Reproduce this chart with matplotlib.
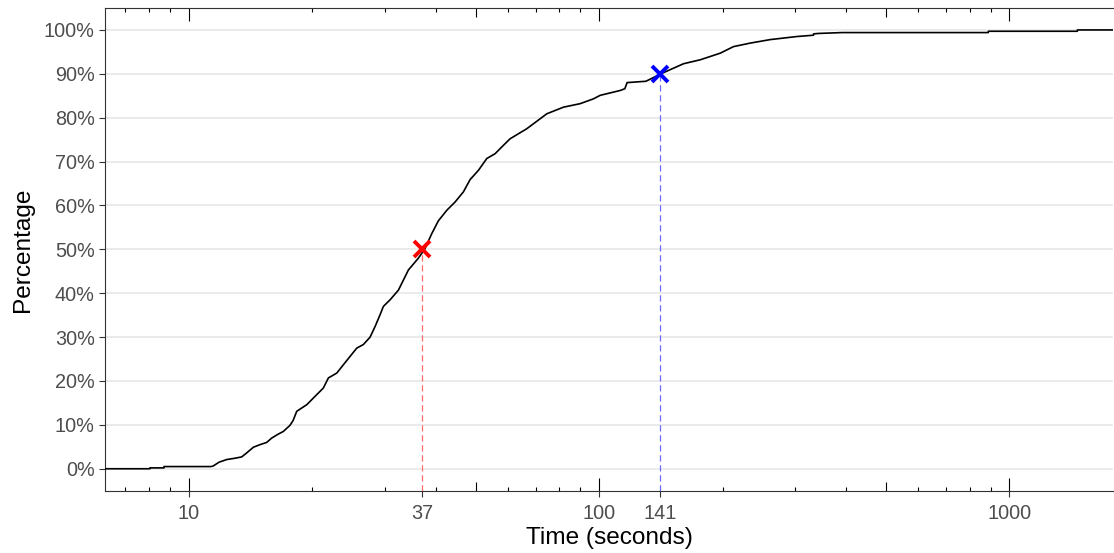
import numpy as np
import matplotlib
matplotlib.use("Agg")
import matplotlib.pyplot as plt
from matplotlib.ticker import FixedLocator, NullLocator, NullFormatter

plt.rcParams["font.family"] = ["Liberation Sans", "DejaVu Sans"]

# cumulative share of sessions vs. time
time_s = [6.0, 8.03, 8.03, 8.69, 8.69, 11.3, 11.44, 11.84, 12.36, 12.95, 13.44, 13.82,
          14.35, 14.90, 15.47, 15.91, 16.51, 16.98, 17.63, 17.94, 18.31, 19.37, 20.29,
          21.26, 21.87, 22.92, 23.79, 24.70, 25.65, 26.61, 27.64, 28.42, 29.23, 29.78,
          30.92, 32.40, 34.27, 36.25, 37.63, 39.08, 40.55, 42.51, 44.55, 46.67, 48.46,
          50.77, 53.22, 55.76, 58.42, 60.66, 66.64, 74.56, 81.85, 89.89, 96.85, 100.6,
          112.5, 115.5, 117.0, 130.0, 142.2, 160.6, 176.4, 197.3, 212.6, 233.5, 261.3,
          303.5, 333.2, 333.2, 342.1, 390.8, 888.9, 888.9, 1465.6, 1465.6, 2000]
cum_share = [0, 0, 0.002, 0.002, 0.005, 0.005, 0.006, 0.015, 0.021, 0.024, 0.027, 0.036,
             0.049, 0.055, 0.060, 0.070, 0.079, 0.085, 0.099, 0.110, 0.131, 0.146, 0.165,
             0.184, 0.207, 0.218, 0.237, 0.256, 0.275, 0.283, 0.300, 0.324, 0.351, 0.370,
             0.385, 0.407, 0.453, 0.480, 0.502, 0.536, 0.565, 0.589, 0.608, 0.631, 0.659,
             0.680, 0.707, 0.718, 0.737, 0.752, 0.775, 0.809, 0.824, 0.832, 0.843, 0.851,
             0.862, 0.866, 0.880, 0.883, 0.901, 0.923, 0.932, 0.947, 0.962, 0.970, 0.978,
             0.985, 0.988, 0.991, 0.992, 0.994, 0.994, 0.997, 0.997, 1.0, 1.0]

# highlighted quantiles
q_times = [37, 141]
q_levels = [0.5, 0.9]
q_colors = ["#FF0000", "#0000FF"]
q_line_colors = ["#FF6B6B", "#6B6BFF"]

x_ticks = [10, 37, 100, 141, 1000]
y_ticks = np.arange(0, 1.01, 0.1)

fig = plt.figure(figsize=(11.14, 5.53), dpi=100)
ax = fig.add_axes([105 / 1114, 62.3 / 553, 1008 / 1114, 482.7 / 553])

ax.set_xscale("log")
ax.set_xlim(6.24, 1790)
ax.set_ylim(-0.05, 1.05)

# grid
for y in y_ticks:
    ax.axhline(y, color="#EBEBEB", lw=1.4, zorder=0)

ax.plot(time_s, cum_share, color="black", lw=1.2, zorder=3)

for t, lv, mc, lc in zip(q_times, q_levels, q_colors, q_line_colors):
    ax.vlines(t, -0.05, lv, colors=lc, lw=0.9, linestyles=(0, (5, 3)), zorder=2)
    ax.plot([t], [lv], marker="x", color=mc, markersize=12, mew=2.8, zorder=4)

# axes styling
for s in ["left", "bottom", "top"]:
    ax.spines[s].set_color("#333333")
    ax.spines[s].set_linewidth(0.8)
ax.spines["right"].set_visible(False)

ax.set_xticks(x_ticks)
ax.set_xticklabels([str(v) for v in x_ticks])
ax.xaxis.set_minor_locator(NullLocator())
ax.xaxis.set_minor_formatter(NullFormatter())
ax.set_yticks(y_ticks)
ax.set_yticklabels(["%d%%" % round(v * 100) for v in y_ticks])
ax.tick_params(axis="both", which="major", direction="out", length=4.3, width=0.8,
               color="#333333", labelcolor="#4D4D4D", labelsize=14.3)
ax.tick_params(axis="x", pad=5)
ax.tick_params(axis="y", pad=3)

# log ticks inside the panel (short / mid / long), bottom and top
short_locs = [7, 8, 9, 20, 30, 40, 60, 70, 80, 90, 200, 300, 400, 600, 700, 800, 900]
mid_locs = [50, 500]
long_locs = [10, 100, 1000]
for side in ["bottom", "top"]:
    for locs, ln in [(short_locs, 3.1), (mid_locs, 6.2), (long_locs, 9.3)]:
        sec = ax.secondary_xaxis(side)
        sec.xaxis.set_major_locator(FixedLocator(locs))
        sec.xaxis.set_minor_locator(NullLocator())
        sec.xaxis.set_major_formatter(NullFormatter())
        sec.xaxis.set_minor_formatter(NullFormatter())
        sec.tick_params(axis="x", which="major", direction="in", length=ln, width=0.8,
                        color="black")
        sec.spines[side].set_visible(False)

ax.set_xlabel("Time (seconds)", fontsize=17.6, color="black", labelpad=3)
ax.set_ylabel("Percentage", fontsize=17.6, color="black", labelpad=7)

fig.savefig("out.png", dpi=100)
